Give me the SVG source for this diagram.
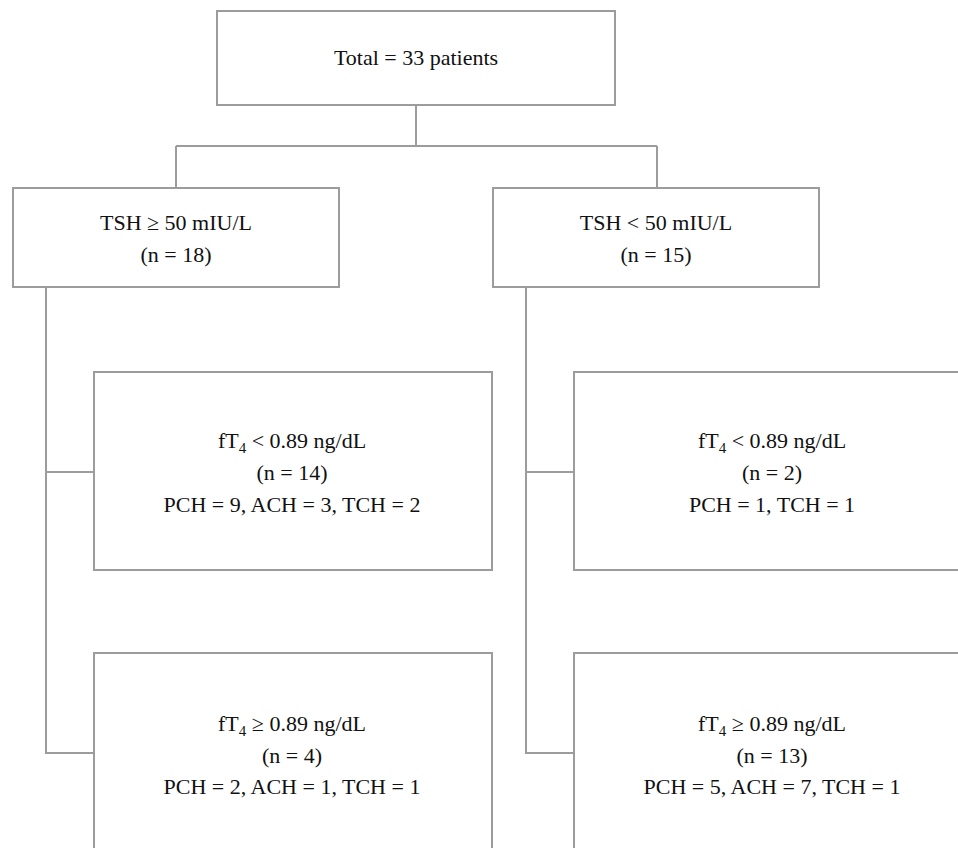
<svg xmlns="http://www.w3.org/2000/svg" width="958" height="848" viewBox="0 0 958 848">
<style>
.box{fill:#fff;stroke:#9c9c9c;stroke-width:2}
.ln{fill:none;stroke:#9c9c9c;stroke-width:2}
text{font-family:"Liberation Serif","Times New Roman",serif;font-size:22px;fill:#111;text-anchor:middle}
.sub{font-size:15px}
</style>
<rect width="958" height="848" fill="#fff"/>
<g id="connectors">
<path class="ln" d="M416 105V146M176 146H657M176 146V188M657 146V188"/>
<path class="ln" d="M46 287V753H94M46 472H94"/>
<path class="ln" d="M526 287V753H574M526 472H574"/>
</g>
<g id="total">
<rect class="box" x="217" y="11" width="398" height="94"/>
<text x="416" y="65">Total = 33 patients</text>
</g>
<g id="tsh-high">
<rect class="box" x="13" y="188" width="326" height="99"/>
<text x="176" y="230">TSH ≥ 50 mIU/L</text>
<text x="176" y="262">(n = 18)</text>
</g>
<g id="tsh-low">
<rect class="box" x="493" y="188" width="326" height="99"/>
<text x="656" y="230">TSH &lt; 50 mIU/L</text>
<text x="656" y="262">(n = 15)</text>
</g>
<g id="high-low-ft4">
<rect class="box" x="94" y="372" width="398" height="198"/>
<text x="292" y="448">fT<tspan class="sub" dy="5">4</tspan><tspan dy="-5"> &lt; 0.89 ng/dL</tspan></text>
<text x="292" y="480">(n = 14)</text>
<text x="292" y="512">PCH = 9, ACH = 3, TCH = 2</text>
</g>
<g id="high-high-ft4">
<rect class="box" x="94" y="653" width="398" height="220"/>
<text x="292" y="731">fT<tspan class="sub" dy="5">4</tspan><tspan dy="-5"> ≥ 0.89 ng/dL</tspan></text>
<text x="292" y="763">(n = 4)</text>
<text x="292" y="794">PCH = 2, ACH = 1, TCH = 1</text>
</g>
<g id="low-low-ft4">
<rect class="box" x="574" y="372" width="398" height="198"/>
<text x="772" y="448">fT<tspan class="sub" dy="5">4</tspan><tspan dy="-5"> &lt; 0.89 ng/dL</tspan></text>
<text x="772" y="480">(n = 2)</text>
<text x="772" y="512">PCH = 1, TCH = 1</text>
</g>
<g id="low-high-ft4">
<rect class="box" x="574" y="653" width="398" height="220"/>
<text x="772" y="731">fT<tspan class="sub" dy="5">4</tspan><tspan dy="-5"> ≥ 0.89 ng/dL</tspan></text>
<text x="772" y="763">(n = 13)</text>
<text x="772" y="794">PCH = 5, ACH = 7, TCH = 1</text>
</g>
</svg>
